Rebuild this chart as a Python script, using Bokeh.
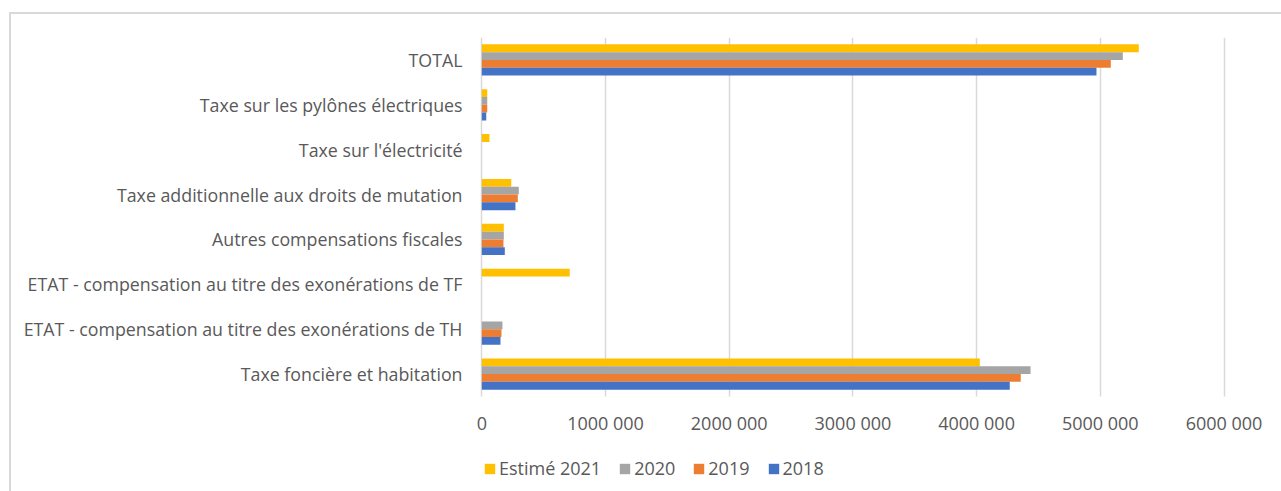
from bokeh.plotting import figure
from bokeh.models import Range1d, FixedTicker, BoxAnnotation, ColumnDataSource
from bokeh.transform import dodge
from bokeh.embed import file_html
from bokeh.resources import INLINE

# categories, top to bottom as in the chart
categories = [
    "TOTAL",
    "Taxe sur les pylônes électriques",
    "Taxe sur l'électricité",
    "Taxe additionnelle aux droits de mutation",
    "Autres compensations fiscales",
    "ETAT - compensation au titre des exonérations de TF",
    "ETAT - compensation au titre des exonérations de TH",
    "Taxe foncière et habitation",
]
estime_2021 = [5311000, 44000, 62000, 238000, 178000, 711000, 0, 4026000]
v2020 = [5182000, 44000, 0, 299000, 178000, 0, 167000, 4436000]
v2019 = [5085000, 44000, 0, 291000, 175000, 0, 159000, 4357000]
v2018 = [4969000, 36000, 0, 272000, 186000, 0, 151000, 4268000]

series_names = ["Estimé 2021", "2020", "2019", "2018"]
series_colors = ["#FFC000", "#A5A5A5", "#ED7D31", "#4472C4"]

x_ticks = [0, 1000000, 2000000, 3000000, 4000000, 5000000, 6000000]
x_tick_labels = ["0", "1000 000", "2000 000", "3000 000", "4000 000", "5000 000", "6000 000"]

FONT = "Open Sans"
TXT = "#595959"

n = len(categories)
ypos = [n - 1 - i for i in range(n)]  # TOTAL on top
src = ColumnDataSource(dict(y=ypos, s0=estime_2021, s1=v2020, s2=v2019, s3=v2018))

# layout (pixels)
W, H = 1281, 491
TOP = 37
ZERO_PX, MAX_PX = 481.3, 1223.5
FRAME_L, FRAME_R = 472, 1270
x_max = x_ticks[-1]
scale = (MAX_PX - ZERO_PX) / x_max
x_start = -(ZERO_PX - FRAME_L) / scale
x_end = x_max + (FRAME_R - MAX_PX) / scale

cat_px = 359 / n
frame_h = H - TOP
y_top = n - 0.5
y_bottom = y_top - frame_h / cat_px

p = figure(
    width=W, height=H,
    y_range=Range1d(y_bottom, y_top),
    x_range=Range1d(x_start, x_end),
    output_backend="svg", toolbar_location=None,
    min_border_left=FRAME_L, min_border_right=W - FRAME_R,
    min_border_top=TOP, min_border_bottom=0,
)
p.border_fill_alpha = 0
p.background_fill_color = "white"
p.outline_line_color = None
p.styles = {"box-shadow": "inset 9px 12px 0 0 #ffffff, inset 11px 14px 0 0 #d9d9d9"}

bar_h = 0.174
offsets = [0.261, 0.087, -0.087, -0.261]
cols = ["s0", "s1", "s2", "s3"]
for col, off, name, color in zip(cols, offsets, series_names, series_colors):
    p.hbar(y=dodge("y", off), right=col, left=0, height=bar_h,
           source=src, fill_color=color, line_color=None, legend_label=name)

# grid
p.ygrid.grid_line_color = None
p.xgrid.grid_line_color = "#d9d9d9"
p.xgrid.grid_line_width = 1.5
try:
    p.xgrid.cross_bounds = (-0.5, y_top)
except Exception:
    p.add_layout(BoxAnnotation(top=-0.5, fill_color="white", fill_alpha=1,
                               line_color=None, level="underlay"))

p.xaxis.ticker = FixedTicker(ticks=x_ticks)
p.xaxis.major_label_overrides = {t: l for t, l in zip(x_ticks, x_tick_labels)}
p.xaxis.fixed_location = -0.5
p.yaxis.ticker = FixedTicker(ticks=ypos)
p.yaxis.major_label_overrides = {y: c for y, c in zip(ypos, categories)}

for ax in (p.xaxis[0], p.yaxis[0]):
    ax.axis_line_color = None
    ax.major_tick_line_color = None
    ax.minor_tick_line_color = None
    ax.major_tick_in = 0
    ax.major_tick_out = 0
    ax.major_label_text_font = FONT
    ax.major_label_text_color = TXT
p.yaxis.major_label_text_font_size = "17.8px"
p.xaxis.major_label_text_font_size = "18px"
p.yaxis.major_label_standoff = int(round(19 - (ZERO_PX - FRAME_L)))
p.xaxis.major_label_standoff = 14

leg = p.legend[0]
leg.orientation = "horizontal"
leg.location = (int(round(ZERO_PX - FRAME_L)) + 2, 11)
leg.border_line_color = None
leg.background_fill_alpha = 0
leg.padding = 0
leg.margin = 0
leg.glyph_width = 13
leg.glyph_height = 13
leg.label_standoff = 3
leg.spacing = 17
leg.label_text_font = FONT
leg.label_text_font_size = "18px"
leg.label_text_color = TXT

open("out.html", "w").write(file_html(p, INLINE))
